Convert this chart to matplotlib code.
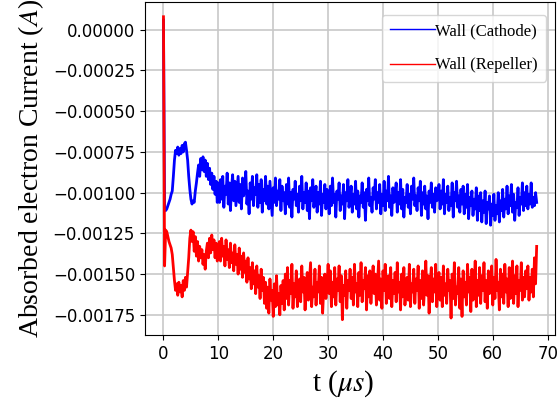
import numpy as np
import matplotlib
matplotlib.use("Agg")
import matplotlib.pyplot as plt
from matplotlib.ticker import FuncFormatter

# absorbed current, in microamperes, one sample every 0.2 us
cathode_uA = np.array([
    60, -1090, -1110, -1100, -1080, -1060, -1040, -1010, -990, -900,
    -800, -740, -760, -720, -770, -730, -760, -710, -750, -700,
    -690, -740, -800, -900, -980, -1040, -1070, -1050, -1060, -990,
    -940, -880, -830, -900, -790, -860, -780, -870, -800, -900,
    -820, -920, -850, -950, -880, -980, -900, -1010, -930, -1060,
    -940,
    -1060, -920, -1040, -900, -1090, -960, -1010, -880, -1070, -940, -1110, -970, -890, -1050, -930, -1080, -990, -900, -1060, -950,
    -1100, -910, -1020, -960, -870, -1070, -990, -1130, -940, -1040, -900, -1080, -970, -1010, -890, -1090, -950, -1060, -920, -1120,
    -980, -1050, -900, -1070, -960, -1100, -930, -1030, -1140, -970, -1060, -910, -1080, -990, -1040, -920, -1110, -960, -1050, -1000,
    -1130, -950, -1070, -910, -1090, -1000, -1150, -980, -1040, -930, -1080, -1010, -1120, -960, -1050, -900, -1100, -1000, -1060, -940,
    -1110, -990, -1160, -970, -1050, -920, -1090, -1020, -960, -1120, -1000, -1070, -930, -1140, -1010, -1060, -950, -1100, -980, -1040,
    -1130, -960, -1080, -910, -1060, -1010, -1150, -990, -1040, -940, -1110, -1020, -1070, -950, -1160, -1000, -1050, -920, -1090, -1030,
    -960, -1120, -1010, -1070, -930, -1100, -990, -1150, -1020, -1060, -940, -1090, -1000, -1170, -980, -1050, -910, -1080, -1030, -1120,
    -970, -1040, -920, -1100, -1000, -1060, -950, -1130, -1010, -1080, -930, -1110, -990, -1050, -900, -1090, -1020, -1140, -970, -1060,
    -1010, -940, -1120, -1000, -1070, -920, -1100, -980, -1150, -1030, -1060, -950, -1090, -1010, -1130, -960, -1040, -910, -1080, -1020,
    -1110, -970, -1050, -930, -1140, -1000, -1070, -960, -1100, -1020, -1160, -990, -1060, -940, -1090, -1010, -1120, -970, -1050, -1030,
    -950, -1100, -990, -1070, -920, -1130, -1010, -1060, -960, -1110, -1030, -1080, -940, -1150, -1000, -1050, -930, -1090, -1020, -1120,
    -980, -1070, -960, -1130, -1010, -1090, -950, -1160, -1030, -1080, -990, -1140, -1040, -1100, -970, -1170, -1020, -1110, -1000, -1180,
    -1050, -1120, -990, -1190, -1060, -1100, -1020, -1200, -1070, -1140, -1010, -1170, -1080, -1130, -1000, -1180, -1050, -1110, -980, -1150,
    -1040, -1100, -960, -1130, -1020, -1080, -950, -1120, -1010, -1170, -1060, -1090, -970, -1140, -1030, -1070, -940, -1110, -1000, -1080,
    -960, -1100, -1010, -1070, -940, -1090, -1030, -1080, -1000, -1060,
])

repeller_uA = np.array([
    80, -1450, -1230, -1240, -1270, -1300, -1320, -1340, -1380, -1460,
    -1540, -1600, -1560, -1630, -1550, -1610, -1570, -1640, -1540, -1600,
    -1520, -1580, -1490, -1400, -1280, -1230, -1300, -1240, -1360, -1270,
    -1390, -1300, -1420, -1330, -1400, -1350, -1440, -1380, -1470, -1360,
    -1310, -1400, -1280, -1370, -1260, -1350, -1290, -1400, -1310, -1420,
    -1330,
    -1300, -1420, -1280, -1390, -1330, -1450, -1290, -1410, -1350, -1460, -1310, -1430, -1370, -1480, -1320, -1440, -1380, -1500, -1340, -1470,
    -1390, -1520, -1370, -1490, -1420, -1550, -1400, -1530, -1460, -1590, -1430, -1560, -1480, -1620, -1450, -1580, -1510, -1650, -1470, -1600,
    -1520, -1680, -1550, -1710, -1580, -1740, -1530, -1660, -1600, -1760, -1560, -1700, -1510, -1690, -1620, -1750, -1570, -1680, -1540, -1720,
    -1500, -1650, -1460, -1690, -1540, -1620, -1440, -1710, -1560, -1640, -1480, -1700, -1590, -1530, -1670, -1450, -1610, -1520, -1720, -1570,
    -1490, -1660, -1540, -1430, -1700, -1580, -1640, -1470, -1690, -1550, -1610, -1450, -1680, -1520, -1740, -1590, -1500, -1650, -1560, -1440,
    -1620, -1480, -1700, -1550, -1640, -1460, -1690, -1530, -1600, -1450, -1670, -1510, -1780, -1570, -1630, -1480, -1710, -1540, -1600, -1470,
    -1650, -1520, -1690, -1440, -1610, -1560, -1700, -1490, -1630, -1430, -1670, -1540, -1590, -1460, -1720, -1510, -1640, -1480, -1680, -1550,
    -1450, -1620, -1500, -1690, -1560, -1420, -1660, -1530, -1710, -1480, -1600, -1440, -1680, -1570, -1510, -1650, -1460, -1700, -1540, -1620,
    -1490, -1670, -1430, -1610, -1550, -1720, -1500, -1640, -1460, -1690, -1580, -1520, -1660, -1440, -1700, -1560, -1610, -1470, -1680, -1530,
    -1600, -1450, -1710, -1540, -1650, -1480, -1690, -1570, -1420, -1630, -1510, -1740, -1560, -1460, -1670, -1530, -1610, -1440, -1700, -1550,
    -1490, -1660, -1520, -1700, -1450, -1630, -1560, -1680, -1470, -1600, -1540, -1770, -1500, -1650, -1430, -1690, -1580, -1620, -1460, -1710,
    -1530, -1760, -1480, -1640, -1550, -1690, -1440, -1610, -1520, -1730, -1470, -1660, -1590, -1420, -1700, -1540, -1630, -1460, -1680, -1510,
    -1600, -1430, -1670, -1540, -1710, -1480, -1620, -1560, -1450, -1690, -1520, -1650, -1410, -1600, -1550, -1720, -1470, -1640, -1500, -1680,
    -1440, -1610, -1530, -1700, -1460, -1650, -1560, -1420, -1680, -1510, -1620, -1450, -1700, -1540, -1600, -1430, -1660, -1520, -1640, -1480,
    -1590, -1450, -1660, -1520, -1610, -1470, -1640, -1400, -1560, -1330,
])

labels = ['Wall (Cathode)', 'Wall (Repeller)']
t_end = 68.0  # us

t = np.linspace(0, t_end, len(cathode_uA))

plt.rcParams['mathtext.fontset'] = 'stix'

fig = plt.figure(figsize=(5.57, 4.01), dpi=100)
ax = fig.add_axes([0.260, 0.165, 0.737, 0.831])

ax.plot(t, cathode_uA * 1e-6, color='blue', lw=2.0, label=labels[0])
ax.plot(t, repeller_uA * 1e-6, color='red', lw=2.0, label=labels[1])

ax.grid(True, color='#c8c8c8', lw=1.2)
ax.tick_params(labelsize=12)
ax.set_yticks([0, -0.00025, -0.0005, -0.00075, -0.001, -0.00125, -0.0015, -0.00175])
ax.yaxis.set_major_formatter(FuncFormatter(lambda v, p: f'{v:.5f}'.replace('-', '\u2212')))

ax.set_xlabel(r't ($\mu s$)', fontsize=21, family='Liberation Serif', labelpad=4.5)
ax.set_ylabel(r'Absorbed electron Current ($A$)', fontsize=20, family='Liberation Serif', labelpad=5)
ax.xaxis.label.set_x(0.484)

leg = ax.legend(loc='upper right', bbox_to_anchor=(1.0, 0.988),
                prop={'family': 'Liberation Serif', 'size': 12},
                handlelength=2.7, handletextpad=0.0, labelspacing=1.1,
                borderpad=0.5, borderaxespad=0.55)
for line in leg.get_lines():
    line.set_linewidth(1.0)

plt.savefig('out.png', dpi=100)
